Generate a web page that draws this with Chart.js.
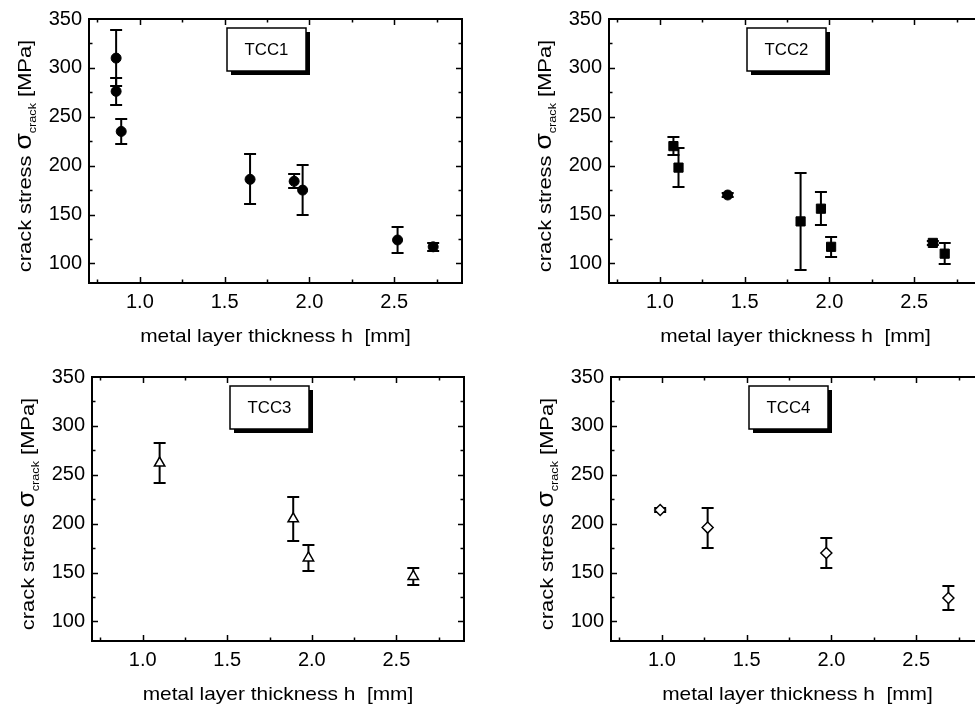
<!DOCTYPE html>
<html>
<head>
<meta charset="utf-8">
<title>Crack stress vs. metal layer thickness</title>
<script src="https://cdn.jsdelivr.net/npm/chart.js@4.4.1/dist/chart.umd.min.js"></script>
<style>
  html, body { margin: 0; padding: 0; background: #fff; overflow: hidden; width: 975px; height: 706px; }
  canvas { position: absolute; }
</style>
</head>
<body>
<canvas id="tcc1" width="487" height="350" style="left:0;top:0"></canvas>
<canvas id="tcc2" width="530" height="350" style="left:487px;top:0"></canvas>
<canvas id="tcc3" width="487" height="353" style="left:0;top:353px"></canvas>
<canvas id="tcc4" width="530" height="353" style="left:487px;top:353px"></canvas>
<script>
// Values
const xTickValues = [1.0, 1.5, 2.0, 2.5];
const yTickValues = [100, 150, 200, 250, 300, 350];

// TCC1 - filled circles
const tcc1Thickness = [0.86, 0.86, 0.89, 1.65, 1.91, 1.96, 2.52, 2.73];
const tcc1Stress    = [310, 276, 235, 186, 184, 175, 124, 117];
const tcc1Error     = [29, 13.5, 12.5, 25.5, 7, 25.5, 13, 4];

// TCC2 - filled squares, plus one filled circle
const tcc2Thickness = [1.08, 1.11, 1.83, 1.95, 2.01, 2.61, 2.68];
const tcc2Stress    = [220, 198, 143, 156, 117, 121, 110];
const tcc2Error     = [9, 20, 50, 17, 10.5, 2, 10.5];
const tcc2CircleThickness = [1.40];
const tcc2CircleStress    = [170];
const tcc2CircleError     = [2];

// TCC3 - open triangles
const tcc3Thickness = [1.10, 1.89, 1.98, 2.60];
const tcc3Stress    = [262, 205, 165, 146];
const tcc3Error     = [20, 22.5, 13, 9];

// TCC4 - open diamonds
const tcc4Thickness = [0.99, 1.27, 1.97, 2.69];
const tcc4Stress    = [214, 196, 170, 124];
const tcc4Error     = [2, 20.5, 15.5, 12.5];

const FONT = '"Liberation Sans", Arial, Helvetica, sans-serif';
const X_TITLE = 'metal layer thickness h  [mm]';

function toPoints(xs, ys) {
    return xs.map((x, i) => ({ x: x, y: ys[i] }));
}

// error bars go under the markers so open symbols hide the line
function drawErrorBars(chart) {
    const ctx = chart.ctx;
    const yScale = chart.scales.y;
    ctx.save();
    ctx.strokeStyle = '#000';
    ctx.lineWidth = 2;
    chart.data.datasets.forEach((ds, di) => {
        if (!ds.errors) return;
        const meta = chart.getDatasetMeta(di);
        meta.data.forEach((pt, i) => {
            const v = ds.data[i].y;
            const e = ds.errors[i];
            const top = Math.round(yScale.getPixelForValue(v + e));
            const bot = Math.round(yScale.getPixelForValue(v - e));
            ctx.beginPath();
            ctx.moveTo(pt.x, top);
            ctx.lineTo(pt.x, bot);
            ctx.moveTo(pt.x - 6, top);
            ctx.lineTo(pt.x + 6, top);
            ctx.moveTo(pt.x - 6, bot);
            ctx.lineTo(pt.x + 6, bot);
            ctx.stroke();
        });
    });
    ctx.restore();
}

// frame with inward ticks on all four sides
function drawFrame(chart) {
    const ctx = chart.ctx;
    const a = chart.chartArea;
    const xs = chart.scales.x;
    const ys = chart.scales.y;
    ctx.save();
    ctx.strokeStyle = '#000';
    ctx.lineWidth = 2;
    ctx.strokeRect(a.left, a.top, a.right - a.left, a.bottom - a.top);

    ctx.lineWidth = 1.5;
    ctx.beginPath();
    for (let i = 3; i <= 11; i++) {
        const v = i * 0.25;
        const len = (i % 2 === 0) ? 6 : 3.5;
        const px = Math.round(xs.getPixelForValue(v)) + 0.5;
        ctx.moveTo(px, a.bottom); ctx.lineTo(px, a.bottom - len);
        ctx.moveTo(px, a.top); ctx.lineTo(px, a.top + len);
    }
    for (let i = 4; i <= 13; i++) {
        const v = i * 25;
        const len = (i % 2 === 0) ? 6 : 3.5;
        const py = Math.round(ys.getPixelForValue(v)) + 0.5;
        ctx.moveTo(a.left, py); ctx.lineTo(a.left + len, py);
        ctx.moveTo(a.right, py); ctx.lineTo(a.right - len, py);
    }
    ctx.stroke();
    ctx.restore();
}

// boxed panel name with a drop shadow
function drawLabelBox(chart, text) {
    const ctx = chart.ctx;
    const a = chart.chartArea;
    const x = a.left + 138, y = a.top + 9, w = 79, h = 43;
    ctx.save();
    ctx.fillStyle = '#000';
    ctx.fillRect(x + 4, y + 4, w, h);
    ctx.fillStyle = '#fff';
    ctx.fillRect(x, y, w, h);
    ctx.strokeStyle = '#000';
    ctx.lineWidth = 1.5;
    ctx.strokeRect(x, y, w, h);
    ctx.fillStyle = '#000';
    ctx.font = '16px ' + FONT;
    ctx.textAlign = 'center';
    ctx.textBaseline = 'middle';
    ctx.translate(x + w / 2, y + h / 2 + 1);
    ctx.scale(1.05, 1);
    ctx.fillText(text, 0, 0);
    ctx.restore();
}

function drawTitles(chart) {
    const ctx = chart.ctx;
    const a = chart.chartArea;
    ctx.save();
    ctx.fillStyle = '#000';

    // x title
    ctx.font = '19px ' + FONT;
    ctx.textAlign = 'center';
    ctx.textBaseline = 'alphabetic';
    ctx.save();
    ctx.translate((a.left + a.right) / 2, a.bottom + 59);
    ctx.scale(1.1, 1);
    ctx.fillText(X_TITLE, 0, 0);
    ctx.restore();

    // y title with subscript, rotated
    const parts = [
        { t: 'crack stress ', f: '19px ' + FONT, dy: 0 },
        { t: '\u03c3', f: '23px ' + FONT, dy: 0 },
        { t: 'crack', f: '11px ' + FONT, dy: 5 },
        { t: ' [MPa]', f: '19px ' + FONT, dy: 0 }
    ];
    const sx = 1.15;
    let total = 0;
    parts.forEach(p => { ctx.font = p.f; p.w = ctx.measureText(p.t).width * sx; total += p.w; });
    ctx.translate(a.left - 58, (a.top + a.bottom) / 2 + 5);
    ctx.rotate(-Math.PI / 2);
    ctx.textAlign = 'left';
    let pos = -total / 2;
    parts.forEach(p => {
        ctx.save();
        ctx.font = p.f;
        ctx.translate(pos, p.dy);
        ctx.scale(sx, 1);
        ctx.fillText(p.t, 0, 0);
        ctx.restore();
        pos += p.w;
    });
    ctx.restore();
}

const panelPlugin = {
    id: 'panelDecor',
    beforeDatasetsDraw(chart) {
        drawErrorBars(chart);
    },
    afterDraw(chart) {
        drawFrame(chart);
        drawLabelBox(chart, chart.options.plugins.panelDecor.label);
        drawTitles(chart);
    }
};

function makeChart(id, label, datasets, box) {
    const ctx = document.getElementById(id);
    return new Chart(ctx, {
        type: 'scatter',
        data: { datasets: datasets },
        options: {
            responsive: false,
            animation: false,
            events: [],
            layout: { padding: { left: 0, top: box.top, right: box.right, bottom: 0 } },
            plugins: {
                legend: { display: false },
                tooltip: { enabled: false },
                panelDecor: { label: label }
            },
            scales: {
                x: {
                    type: 'linear',
                    min: 0.7,
                    max: 2.9,
                    grid: { display: false, drawTicks: false },
                    border: { display: false },
                    afterBuildTicks: s => { s.ticks = xTickValues.map(v => ({ value: v })); },
                    afterFit: s => { s.height = box.xAxisHeight; },
                    ticks: {
                        color: '#000',
                        font: { family: FONT, size: 20 },
                        padding: 7,
                        maxRotation: 0,
                        autoSkip: false,
                        callback: v => Number(v).toFixed(1)
                    }
                },
                y: {
                    type: 'linear',
                    min: 80,
                    max: 350,
                    grid: { display: false, drawTicks: false },
                    border: { display: false },
                    afterBuildTicks: s => { s.ticks = yTickValues.map(v => ({ value: v })); },
                    afterFit: s => { s.width = box.yAxisWidth; },
                    ticks: {
                        color: '#000',
                        font: { family: FONT, size: 20 },
                        padding: 7,
                        autoSkip: false,
                        callback: v => String(v)
                    }
                }
            }
        },
        plugins: [panelPlugin]
    });
}

function series(xs, ys, errs, style, radius, fill) {
    return {
        data: toPoints(xs, ys),
        errors: errs,
        pointStyle: style,
        pointRadius: radius,
        backgroundColor: fill,
        borderColor: '#000',
        borderWidth: fill === '#000' ? 1 : 1.5,
        showLine: false
    };
}

makeChart('tcc1', 'TCC1', [
    series(tcc1Thickness, tcc1Stress, tcc1Error, 'circle', 5, '#000')
], { top: 18, right: 25, yAxisWidth: 89, xAxisHeight: 67 });

makeChart('tcc2', 'TCC2', [
    series(tcc2Thickness, tcc2Stress, tcc2Error, 'rect', 6.5, '#000'),
    series(tcc2CircleThickness, tcc2CircleStress, tcc2CircleError, 'circle', 5, '#000')
], { top: 19, right: 35, yAxisWidth: 122, xAxisHeight: 67 });

makeChart('tcc3', 'TCC3', [
    series(tcc3Thickness, tcc3Stress, tcc3Error, 'triangle', 6, '#fff')
], { top: 24, right: 23, yAxisWidth: 92, xAxisHeight: 65 });

makeChart('tcc4', 'TCC4', [
    series(tcc4Thickness, tcc4Stress, tcc4Error, 'rectRot', 5.5, '#fff')
], { top: 24, right: 33, yAxisWidth: 124, xAxisHeight: 65 });
</script>
</body>
</html>
